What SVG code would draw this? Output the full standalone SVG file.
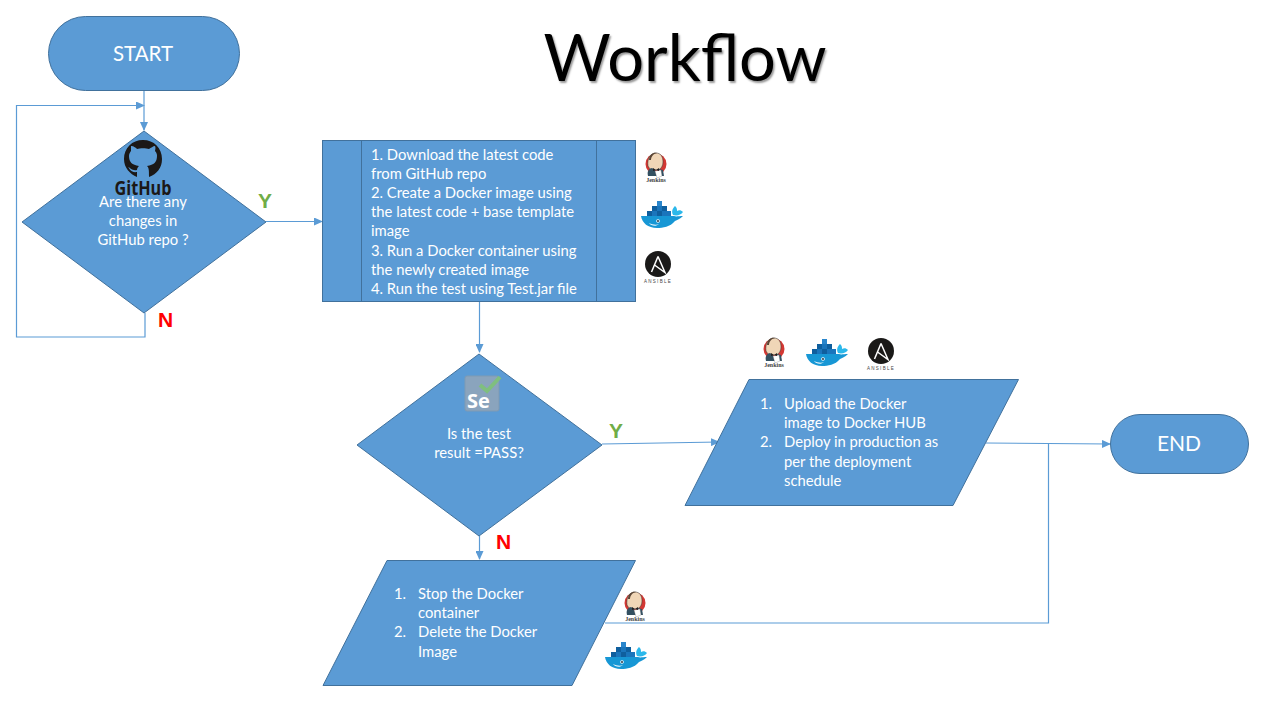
<svg xmlns="http://www.w3.org/2000/svg" width="1280" height="720" viewBox="0 0 1280 720">
<style>
.s{fill:#5b9bd5;stroke:#41719c;stroke-width:1}
.t{font-family:"Lato","Open Sans",sans-serif;font-size:14.8px;fill:#fff}
.m{text-anchor:middle}
.c{fill:none;stroke:#5b9bd5;stroke-width:1.2}
.yn{font-family:"Liberation Sans",sans-serif;font-size:21px;font-weight:bold}
</style>
<defs>
<marker id="a" markerUnits="userSpaceOnUse" markerWidth="9" markerHeight="8" refX="8" refY="4" orient="auto"><path d="M0 0L9 4L0 8Z" fill="#5b9bd5"/></marker>
<g id="jenkins">
<circle cx="0" cy="-1" r="10.500" fill="#d33833"/>
<path d="M-8 1C-9-6-6-12 0-12C5-12 7-8 7-3C7 1 5 4 2 5L-4 5C-6 4-7 3-8 1Z" fill="#f0d6b7" stroke="#2b2b2b" stroke-width=".5"/>
<path d="M-7-5C-7-11-2-13 1-12C-3-11-5-8-5-5Z" fill="#5a4636"/>
<path d="M-8 11C-9 7-8 4-4 3L-1 5L1 11Z" fill="#335061"/>
<path d="M3 4L7 5L8 11L3 11Z" fill="#335061"/>
<path d="M-1 6L5 5L6 11L1 13Z" fill="#fff" stroke="#666" stroke-width=".3"/>
<path d="M-3 3L0 5L3 3L3 6L0 5L-3 6Z" fill="#231f20"/>
<text x="0" y="17" text-anchor="middle" font-family="Liberation Serif,serif" font-weight="bold" font-size="6" fill="#444">Jenkins</text>
</g>
<g id="docker">
<path d="M-21 1H12C14 2 17 1 21 1C18 4 15 5 13 6C8 12 1 13-5 13C-14 13-20 8-21 1Z" fill="#1797d5"/>
<path d="M-13 8C-9 10-5 10-3 9C-6 12-11 11-13 8Z" fill="#e8f4fa"/>
<path d="M11 0C9-4 11-7 13-9C15-7 15-6 15-4C17-5 19-5 21-3C19 0 15 1 11 0Z" fill="#2bb8eb"/>
<g fill="#0f5f9e"><rect x="-15" y="-4" width="5" height="5"/><rect x="-5" y="-4" width="5" height="5"/></g>
<g fill="#1a75bc"><rect x="-10" y="-4" width="5" height="5"/><rect x="0" y="-4" width="5" height="5"/><rect x="5" y="-4" width="4" height="5"/><rect x="-5" y="-9" width="5" height="5"/></g>
<g fill="#0f5f9e"><rect x="-10" y="-9" width="5" height="5"/><rect x="0" y="-9" width="5" height="5"/></g>
<rect x="-5" y="-14" width="5" height="5" fill="#2a86cc"/>
<circle cx="-4" cy="6" r="1.800" fill="#fff"/><circle cx="-4" cy="6" r=".9" fill="#123"/>
</g>
<g id="ansible">
<circle cx="0" cy="-1" r="13" fill="#1a1918"/>
<path d="M0-8.500L7 7.500L-3.500 0" fill="none" stroke="#fff" stroke-width="1.500"/>
<path d="M0-8.500L-6.500 7" fill="none" stroke="#fff" stroke-width="1.500"/>
<text x="0" y="18" text-anchor="middle" font-family="Liberation Sans,sans-serif" font-size="4.500" letter-spacing="1.300" fill="#444">ANSIBLE</text>
</g>
</defs>
<rect width="1280" height="720" fill="#fff"/>
<g id="connectors">
<path class="c" d="M144 91V130" marker-end="url(#a)"/>
<path class="c" d="M145 313V337H16.500V105.500H144" marker-end="url(#a)"/>
<path class="c" d="M266 221.500H322" marker-end="url(#a)"/>
<path class="c" d="M479.500 302V352" marker-end="url(#a)"/>
<path class="c" d="M602 444L719 442" marker-end="url(#a)"/>
<path class="c" d="M479.500 536V559" marker-end="url(#a)"/>
<path class="c" d="M986 443L1110 444" marker-end="url(#a)"/>
<path class="c" d="M605 623H1048.500V444"/>
</g>
<g id="title"><text x="685" y="81" text-anchor="middle" font-family="Lato,sans-serif" font-size="65" fill="#000" style="text-shadow:1.5px 1.5px 2px #999">Workflow</text></g>
<g id="start"><rect class="s" x="48.500" y="16.500" width="191" height="74" rx="37"/><text class="t m" x="143" y="61" style="font-size:20.500px">START</text></g>
<g id="check-changes"><path class="s" d="M144 131L266 222L144 313L22 222Z"/>
<path d="M143 140C132 140 124 148 124 159C124 168 130 174 137 177V172C131 173 130 169 128 167C131 168 132 171 137 170C137 168 138 167 139 166C132 165 129 162 129 156C129 154 130 152 131 151C131 149 131 147 131 146C134 146 136 148 137 149C140 148 146 148 149 149C151 148 153 146 155 146C156 148 155 150 155 151C157 153 157 155 157 156C157 162 154 165 147 166C149 168 149 170 149 177C157 174 162 168 162 159C162 148 154 140 143 140Z" fill="#1b1817"/>
<text x="143" y="195" text-anchor="middle" font-family="Open Sans,sans-serif" font-weight="700" font-size="19" fill="#1b1817" textLength="57" lengthAdjust="spacingAndGlyphs">GitHub</text>
<text class="t m" x="143" y="207">Are there any</text><text class="t m" x="143" y="226">changes in</text><text class="t m" x="143" y="245">GitHub repo ?</text></g>
<g id="label-y1"><text class="yn" x="258" y="208" fill="#70ad47">Y</text></g>
<g id="label-n1"><text class="yn" x="158" y="327" fill="#f00">N</text></g>
<g id="steps"><rect class="s" x="322.500" y="140.500" width="313" height="161"/><path class="s" d="M361.500 140.500V301.500M596.500 140.500V301.500"/>
<text class="t"><tspan x="371" y="159.500">1. Download the latest code</tspan><tspan x="371" y="178.500">from GitHub repo</tspan><tspan x="371" y="197.500">2. Create a Docker image using</tspan><tspan x="371" y="217">the latest code + base template</tspan><tspan x="371" y="236">image</tspan><tspan x="371" y="255.500">3. Run a Docker container using</tspan><tspan x="371" y="274.500">the newly created image</tspan><tspan x="371" y="294">4. Run the test using Test.jar file</tspan></text></g>
<g id="icons-steps"><use href="#jenkins" x="656" y="165"/><use href="#docker" x="662" y="215"/><use href="#ansible" x="658" y="265"/></g>
<g id="check-test"><path class="s" d="M479 354L602 445L479 536L357 445Z"/>
<rect x="465" y="376" width="34" height="35" rx="2" fill="#8aa4bd" stroke="#7f9ab3"/>
<path d="M480 385L487 391L500 377" fill="none" stroke="#7fbf7f" stroke-width="4"/>
<text x="467" y="408" font-family="Open Sans,sans-serif" font-weight="bold" font-size="20" fill="#fff">Se</text>
<text class="t m" x="479" y="439">Is the test</text><text class="t m" x="479" y="458">result =PASS?</text></g>
<g id="label-y2"><text class="yn" x="609" y="438" fill="#70ad47">Y</text></g>
<g id="label-n2"><text class="yn" x="496" y="549" fill="#f00">N</text></g>
<g id="deploy"><path class="s" d="M749 379.500H1018.500L953 505.500H685Z"/>
<text class="t"><tspan x="760" y="409">1.</tspan><tspan x="784" y="409">Upload the Docker</tspan><tspan x="784" y="428">image to Docker HUB</tspan><tspan x="760" y="447">2.</tspan><tspan x="784" y="447">Deploy in production as</tspan><tspan x="784" y="467">per the deployment</tspan><tspan x="784" y="486">schedule</tspan></text></g>
<g id="icons-deploy"><use href="#jenkins" x="774" y="350"/><use href="#docker" x="827" y="353"/><use href="#ansible" x="881" y="352"/></g>
<g id="end"><rect class="s" x="1110.500" y="414.500" width="138" height="59" rx="29.500"/><text class="t m" x="1179" y="451" style="font-size:21px">END</text></g>
<g id="cleanup"><path class="s" d="M387 560.500H635.500L572 685.500H323Z"/>
<text class="t"><tspan x="394" y="599">1.</tspan><tspan x="418" y="599">Stop the Docker</tspan><tspan x="418" y="618">container</tspan><tspan x="394" y="637">2.</tspan><tspan x="418" y="637">Delete the Docker</tspan><tspan x="418" y="657">Image</tspan></text></g>
<g id="icons-cleanup"><use href="#jenkins" x="635" y="604"/><use href="#docker" x="626" y="656"/></g>
</svg>
